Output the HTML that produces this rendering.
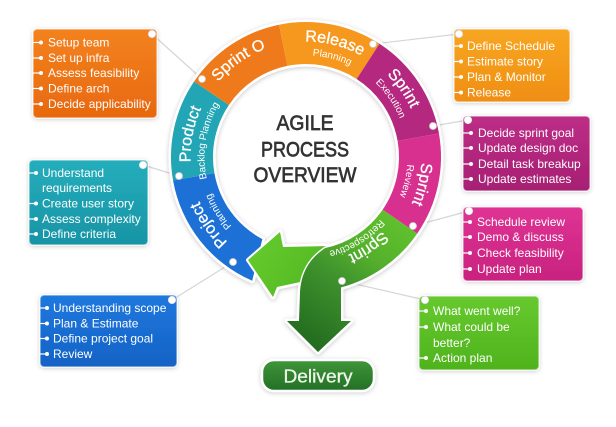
<!DOCTYPE html>
<html><head><meta charset="utf-8">
<style>
html,body{margin:0;padding:0;background:#fff;}
svg{display:block;font-family:"Liberation Sans",sans-serif;}
</style></head>
<body>
<svg width="616" height="427" viewBox="0 0 616 427" xmlns="http://www.w3.org/2000/svg">
<defs>
<filter id="sh" x="-20%" y="-20%" width="140%" height="140%"><feDropShadow dx="0" dy="1" stdDeviation="2.5" flood-color="#000" flood-opacity="0.22"/></filter>
<filter id="bs" x="-20%" y="-20%" width="140%" height="140%"><feDropShadow dx="0" dy="1" stdDeviation="2.5" flood-color="#000" flood-opacity="0.2"/></filter>
<linearGradient id="gO" x1="0" y1="0" x2="0" y2="1"><stop offset="0" stop-color="#f3821f"/><stop offset="1" stop-color="#e8680f"/></linearGradient>
<linearGradient id="gT" x1="0" y1="0" x2="0" y2="1"><stop offset="0" stop-color="#25adbc"/><stop offset="1" stop-color="#1794a5"/></linearGradient>
<linearGradient id="gB" x1="0" y1="0" x2="0" y2="1"><stop offset="0" stop-color="#1e78de"/><stop offset="1" stop-color="#1562c5"/></linearGradient>
<linearGradient id="gA" x1="0" y1="0" x2="0" y2="1"><stop offset="0" stop-color="#f8a622"/><stop offset="1" stop-color="#ef8e12"/></linearGradient>
<linearGradient id="gM" x1="0" y1="0" x2="0" y2="1"><stop offset="0" stop-color="#bd2e87"/><stop offset="1" stop-color="#a61f73"/></linearGradient>
<linearGradient id="gP" x1="0" y1="0" x2="0" y2="1"><stop offset="0" stop-color="#df3394"/><stop offset="1" stop-color="#c8227f"/></linearGradient>
<linearGradient id="gG" x1="0" y1="0" x2="0" y2="1"><stop offset="0" stop-color="#66c92e"/><stop offset="1" stop-color="#4fb31d"/></linearGradient>
<linearGradient id="gD" x1="0" y1="0" x2="0" y2="1"><stop offset="0" stop-color="#409638"/><stop offset="1" stop-color="#236f27"/></linearGradient>
<linearGradient id="gR" gradientUnits="userSpaceOnUse" x1="405" y1="222" x2="318" y2="350"><stop offset="0" stop-color="#60c12d"/><stop offset="0.3" stop-color="#55b12c"/><stop offset="0.55" stop-color="#3f922d"/><stop offset="1" stop-color="#226c1f"/></linearGradient>
<linearGradient id="gL" gradientUnits="userSpaceOnUse" x1="250" y1="240" x2="320" y2="290"><stop offset="0" stop-color="#66cb2c"/><stop offset="1" stop-color="#52b823"/></linearGradient>
<path id="cb" d="M 306 272.5 A 115.5 115.5 0 1 1 306 41.5 A 115.5 115.5 0 1 1 306 272.5"/>
<path id="cs" d="M 306 258.5 A 101.5 101.5 0 1 1 306 55.5 A 101.5 101.5 0 1 1 306 258.5"/>
<path id="crb" d="M 306 263.5 A 106.5 106.5 0 1 1 306 50.5 A 106.5 106.5 0 1 1 306 263.5"/>
<path id="crs" d="M 306 254 A 97 97 0 1 1 306 60 A 97 97 0 1 1 306 254"/>
</defs>

<!-- connector lines -->
<g stroke="#d6d6d6" stroke-width="1.2" fill="none">
<line x1="152" y1="34" x2="202" y2="79"/>
<line x1="143" y1="165" x2="179" y2="176"/>
<line x1="172" y1="300" x2="233" y2="262"/>
<line x1="459" y1="34" x2="373" y2="44"/>
<line x1="468" y1="120" x2="433" y2="126"/>
<line x1="469" y1="211" x2="413" y2="226"/>
<line x1="425" y1="300" x2="342" y2="281"/>
</g>

<!-- ring outline/shadow layer -->
<g filter="url(#sh)" fill="#fff" stroke="#fff" stroke-width="5" stroke-linejoin="round">
<path d="M 252.2 280.8 A 135 135 0 0 1 173.05 180.44 L 214.41 173.15 A 93 93 0 0 0 262.3 239.1 Z"/>
<path d="M 173.05 180.44 A 135 135 0 0 1 194.08 81.51 L 228.9 104.99 A 93 93 0 0 0 214.41 173.15 Z"/>
<path d="M 194.08 81.51 A 135 135 0 0 1 279.08 24.71 L 287.46 65.87 A 93 93 0 0 0 228.9 104.99 Z"/>
<path d="M 279.08 24.71 A 135 135 0 0 1 379.52 43.78 L 356.65 79.0 A 93 93 0 0 0 287.46 65.87 Z"/>
<path d="M 379.52 43.78 A 135 135 0 0 1 438.95 133.56 L 397.59 140.85 A 93 93 0 0 0 356.65 79.0 Z"/>
<path d="M 438.95 133.56 A 135 135 0 0 1 417.25 233.46 L 382.64 209.68 A 93 93 0 0 0 397.59 140.85 Z"/>
<path d="M 330 246 L 283 247 L 280 232 L 248 260 L 273 297 L 277 287 L 305 281 Z"/>
<path d="M 417.25 233.46 A 135 135 0 0 1 341 287.4 L 341 321 L 351 321 L 318 352 L 287 321 L 299 321 L 300 293 C 301 272 310 258 325.3 248 A 93 93 0 0 0 382.64 209.68 Z"/>
</g>

<!-- fills -->
<path d="M 252.2 280.8 A 135 135 0 0 1 173.05 180.44 L 214.41 173.15 A 93 93 0 0 0 262.3 239.1 Z" fill="#1d70d5"/>
<path d="M 330 246 L 283 247 L 280 232 L 248 260 L 273 297 L 277 287 L 305 281 Z" fill="url(#gL)" stroke="#fff" stroke-width="4" stroke-linejoin="round" paint-order="stroke"/>
<path d="M 417.25 233.46 A 135 135 0 0 1 341 287.4 L 341 321 L 351 321 L 318 352 L 287 321 L 299 321 L 300 293 C 301 272 310 258 325.3 248 A 93 93 0 0 0 382.64 209.68 Z" fill="url(#gR)" stroke="#fff" stroke-width="3" stroke-linejoin="round" paint-order="stroke"/>
<path d="M 173.05 180.44 A 135 135 0 0 1 194.08 81.51 L 228.9 104.99 A 93 93 0 0 0 214.41 173.15 Z" fill="#22a5b5"/>
<path d="M 194.08 81.51 A 135 135 0 0 1 279.08 24.71 L 287.46 65.87 A 93 93 0 0 0 228.9 104.99 Z" fill="#ef7a1b"/>
<path d="M 279.08 24.71 A 135 135 0 0 1 379.52 43.78 L 356.65 79.0 A 93 93 0 0 0 287.46 65.87 Z" fill="#f6981d"/>
<path d="M 379.52 43.78 A 135 135 0 0 1 438.95 133.56 L 397.59 140.85 A 93 93 0 0 0 356.65 79.0 Z" fill="#b5287f"/>
<path d="M 438.95 133.56 A 135 135 0 0 1 417.25 233.46 L 382.64 209.68 A 93 93 0 0 0 397.59 140.85 Z" fill="#d8308f"/>

<!-- ring labels -->
<g fill="#fff" stroke="#fff" stroke-width="0.3" font-size="16" text-anchor="middle">
<text><textPath href="#cb" startOffset="292.3">Sprint O</textPath></text>
<text><textPath href="#cb" startOffset="391.1">Release</textPath></text>
<text><textPath href="#cb" startOffset="472.9">Sprint</textPath></text>
<text><textPath href="#cb" startOffset="570.5">Sprint</textPath></text>
<text><textPath href="#cb" startOffset="203.6">Product</textPath></text>
<text><textPath href="#cb" startOffset="110.9">Project</textPath></text>
<text><textPath href="#crb" startOffset="604.2">Sprint</textPath></text>
</g>
<g fill="#fff" font-size="10" text-anchor="middle">
<text><textPath href="#cs" startOffset="344.5">Planning</textPath></text>
<text><textPath href="#cs" startOffset="416.3">Execution</textPath></text>
<text><textPath href="#cs" startOffset="501.3">Review</textPath></text>
<text><textPath href="#cs" startOffset="175.9">Backlog Planning</textPath></text>
<text><textPath href="#cs" startOffset="102.7">Planning</textPath></text>
<text><textPath href="#crs" startOffset="554.6">Retrospective</textPath></text>
</g>

<!-- ring dots -->
<g fill="#fff" stroke="#cfcfcf" stroke-width="0.8">
<circle cx="202" cy="79" r="3.5"/>
<circle cx="179" cy="176" r="3.5"/>
<circle cx="233" cy="262" r="3.5"/>
<circle cx="373" cy="44" r="3.5"/>
<circle cx="433" cy="126" r="3.5"/>
<circle cx="413" cy="226" r="3.5"/>
<circle cx="342" cy="281" r="3.5"/>
</g>

<!-- center title -->
<g fill="#333" stroke="#333" stroke-width="0.7" font-size="21" text-anchor="middle">
<text x="305" y="130" textLength="57" lengthAdjust="spacingAndGlyphs">AGILE</text>
<text x="305" y="156.5" textLength="88" lengthAdjust="spacingAndGlyphs">PROCESS</text>
<text x="305" y="182" textLength="103" lengthAdjust="spacingAndGlyphs">OVERVIEW</text>
</g>

<!-- Delivery -->
<rect x="262" y="360" width="112" height="31" rx="12" fill="url(#gD)" stroke="#fff" stroke-width="2.5" filter="url(#bs)"/>
<text x="318" y="382.5" font-size="18" fill="#eef6ea" stroke="#eef6ea" stroke-width="0.3" text-anchor="middle" textLength="69" lengthAdjust="spacingAndGlyphs">Delivery</text>

<!-- boxes -->
<g filter="url(#bs)" stroke="#fff" stroke-opacity="0.55" stroke-width="1.5">
<rect x="33" y="29" width="124" height="89" rx="4" fill="url(#gO)"/>
<rect x="29" y="160" width="119" height="85" rx="4" fill="url(#gT)"/>
<rect x="40" y="295" width="137" height="72" rx="4" fill="url(#gB)"/>
<rect x="454" y="29" width="116" height="73" rx="4" fill="url(#gA)"/>
<rect x="463" y="116" width="127" height="75" rx="4" fill="url(#gM)"/>
<rect x="463" y="207" width="120" height="74" rx="4" fill="url(#gP)"/>
<rect x="419" y="296" width="120" height="74" rx="4" fill="url(#gG)"/>
</g>

<!-- box dots -->
<g fill="#fff" stroke="#d0d0d0" stroke-width="0.6">
<circle cx="152" cy="34" r="3.8"/>
<circle cx="143" cy="165" r="3.8"/>
<circle cx="172" cy="300" r="3.8"/>
<circle cx="459" cy="34" r="3.8"/>
<circle cx="468" cy="120" r="3.8"/>
<circle cx="469" cy="211" r="3.8"/>
<circle cx="425" cy="300" r="3.8"/>
</g>

<!-- bullets -->
<g stroke="#fff" stroke-width="1.2" fill="#fff">
<line x1="33" y1="42.5" x2="41" y2="42.5"/><circle cx="41" cy="42.5" r="2" stroke="none"/>
<line x1="33" y1="58" x2="41" y2="58"/><circle cx="41" cy="58" r="2" stroke="none"/>
<line x1="33" y1="73" x2="41" y2="73"/><circle cx="41" cy="73" r="2" stroke="none"/>
<line x1="33" y1="88.5" x2="41" y2="88.5"/><circle cx="41" cy="88.5" r="2" stroke="none"/>
<line x1="33" y1="104" x2="41" y2="104"/><circle cx="41" cy="104" r="2" stroke="none"/>

<line x1="29" y1="173" x2="36" y2="173"/><circle cx="36" cy="173" r="2" stroke="none"/>
<line x1="29" y1="203.5" x2="36" y2="203.5"/><circle cx="36" cy="203.5" r="2" stroke="none"/>
<line x1="29" y1="219" x2="36" y2="219"/><circle cx="36" cy="219" r="2" stroke="none"/>
<line x1="29" y1="234" x2="36" y2="234"/><circle cx="36" cy="234" r="2" stroke="none"/>

<line x1="40" y1="308" x2="47" y2="308"/><circle cx="47" cy="308" r="2" stroke="none"/>
<line x1="40" y1="323.5" x2="47" y2="323.5"/><circle cx="47" cy="323.5" r="2" stroke="none"/>
<line x1="40" y1="338.5" x2="47" y2="338.5"/><circle cx="47" cy="338.5" r="2" stroke="none"/>
<line x1="40" y1="354" x2="47" y2="354"/><circle cx="47" cy="354" r="2" stroke="none"/>

<line x1="454" y1="46" x2="461" y2="46"/><circle cx="461" cy="46" r="2" stroke="none"/>
<line x1="454" y1="61.5" x2="461" y2="61.5"/><circle cx="461" cy="61.5" r="2" stroke="none"/>
<line x1="454" y1="77" x2="461" y2="77"/><circle cx="461" cy="77" r="2" stroke="none"/>
<line x1="454" y1="92.5" x2="461" y2="92.5"/><circle cx="461" cy="92.5" r="2" stroke="none"/>

<line x1="463" y1="133" x2="471" y2="133"/><circle cx="471" cy="133" r="2" stroke="none"/>
<line x1="463" y1="148" x2="471" y2="148"/><circle cx="471" cy="148" r="2" stroke="none"/>
<line x1="463" y1="164" x2="471" y2="164"/><circle cx="471" cy="164" r="2" stroke="none"/>
<line x1="463" y1="179" x2="471" y2="179"/><circle cx="471" cy="179" r="2" stroke="none"/>

<line x1="463" y1="222" x2="470" y2="222"/><circle cx="470" cy="222" r="2" stroke="none"/>
<line x1="463" y1="237" x2="470" y2="237"/><circle cx="470" cy="237" r="2" stroke="none"/>
<line x1="463" y1="253" x2="470" y2="253"/><circle cx="470" cy="253" r="2" stroke="none"/>
<line x1="463" y1="269" x2="470" y2="269"/><circle cx="470" cy="269" r="2" stroke="none"/>

<line x1="419" y1="311" x2="426" y2="311"/><circle cx="426" cy="311" r="2" stroke="none"/>
<line x1="419" y1="327" x2="426" y2="327"/><circle cx="426" cy="327" r="2" stroke="none"/>
<line x1="419" y1="358" x2="426" y2="358"/><circle cx="426" cy="358" r="2" stroke="none"/>
</g>

<!-- box texts -->
<g fill="#fff" font-size="12">
<text x="48" y="46.5">Setup team</text>
<text x="48" y="62">Set up infra</text>
<text x="48" y="77">Assess feasibility</text>
<text x="48" y="92.5">Define arch</text>
<text x="48" y="108">Decide applicability</text>

<text x="42" y="177">Understand</text>
<text x="42" y="192">requirements</text>
<text x="42" y="207.5">Create user story</text>
<text x="42" y="223">Assess complexity</text>
<text x="42" y="238">Define criteria</text>

<text x="53" y="312">Understanding scope</text>
<text x="53" y="327.5">Plan &amp; Estimate</text>
<text x="53" y="342.5">Define project goal</text>
<text x="53" y="358">Review</text>

<text x="467" y="50">Define Schedule</text>
<text x="467" y="65.5">Estimate story</text>
<text x="467" y="81">Plan &amp; Monitor</text>
<text x="467" y="96.5">Release</text>

<text x="478" y="137">Decide sprint goal</text>
<text x="478" y="152">Update design doc</text>
<text x="478" y="168">Detail task breakup</text>
<text x="478" y="183">Update estimates</text>

<text x="477" y="226">Schedule review</text>
<text x="477" y="241">Demo &amp; discuss</text>
<text x="477" y="257">Check feasibility</text>
<text x="477" y="273">Update plan</text>

<text x="433" y="315">What went well?</text>
<text x="433" y="331">What could be</text>
<text x="433" y="347">better?</text>
<text x="433" y="362">Action plan</text>
</g>
</svg>
</body></html>
